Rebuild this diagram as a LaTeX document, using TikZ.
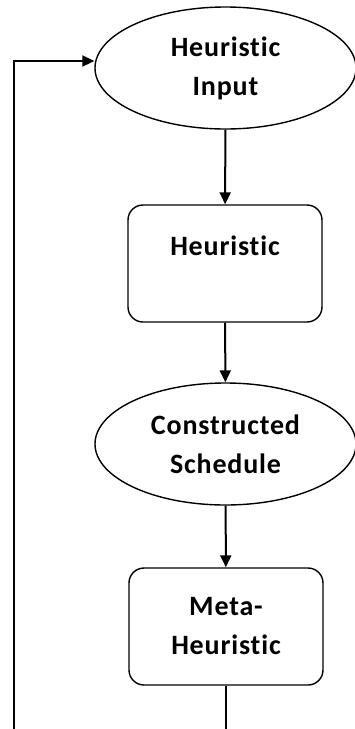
\documentclass[tikz,border=0pt]{standalone}
\usepackage{fontspec}
\setmainfont{Carlito}[Ligatures=NoCommon,LetterSpace=3]
\usetikzlibrary{arrows.meta,shapes.geometric}
\tikzset{
    datanode/.style={draw,ellipse,line width=1.4pt,minimum width=261pt,minimum height=122pt,inner sep=0pt,align=center},
    stepbox/.style={draw,rectangle,rounded corners=15pt,line width=1.4pt,minimum width=194pt,minimum height=117pt,inner sep=0pt,align=center},
    flow/.style={line width=2pt,-{Triangle[length=12pt,width=11pt]}},
    flowline/.style={line width=2pt}
}
\begin{document}
\begin{tikzpicture}[x=1pt,y=-1pt,font=\fontsize{28}{39}\selectfont\bfseries]
\useasboundingbox[fill=white] (0,0) rectangle (355,729);
\node[datanode] (input) at (225.5,68) {Heuristic\\Input};
\node[stepbox,text depth=36pt] (heur) at (225,263.5) {Heuristic};
\node[datanode] (sched) at (225.5,444) {Constructed\\Schedule};
\node[stepbox] (meta) at (226,626.5) {Meta-\\Heuristic};
\coordinate (loopbot) at (14,729);
% main chain
\draw[flow] (input) -- (heur);
\draw[flow] (heur) -- (sched);
\draw[flow] (sched) -- (meta);
\draw[flowline] (meta) -- (meta |- loopbot);
% feedback loop
\draw[flow] (loopbot) |- ([yshift=7pt]input.west);
\end{tikzpicture}
\end{document}
